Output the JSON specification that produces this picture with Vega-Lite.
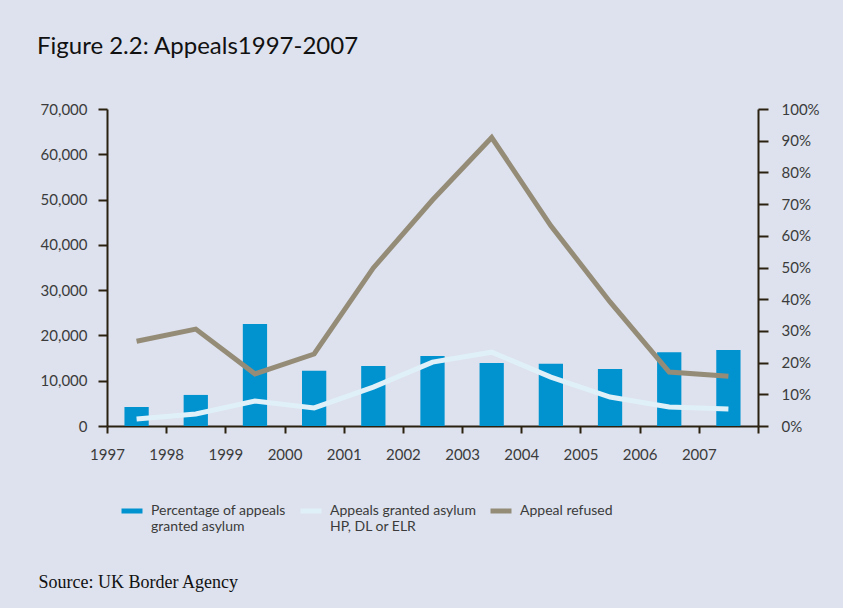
{
  "$schema": "https://vega.github.io/schema/vega-lite/v6.json",
  "width": 651,
  "height": 317,
  "autosize": {"type": "none"},
  "padding": {"left": 107, "top": 109, "right": 85, "bottom": 182},
  "background": "#dde2ee",
  "title": {
    "text": "Figure 2.2: Appeals1997-2007",
    "font": "Lato",
    "fontSize": 24,
    "fontWeight": "normal",
    "color": "#111111",
    "anchor": "start",
    "frame": "group",
    "align": "left",
    "baseline": "alphabetic",
    "dx": -70,
    "offset": 24
  },
  "data": {
    "values": [
      {"year": "1997", "series": "Percentage of appeals granted asylum", "value": 6.0},
      {"year": "1998", "series": "Percentage of appeals granted asylum", "value": 9.8},
      {"year": "1999", "series": "Percentage of appeals granted asylum", "value": 32.2},
      {"year": "2000", "series": "Percentage of appeals granted asylum", "value": 17.4},
      {"year": "2001", "series": "Percentage of appeals granted asylum", "value": 18.9},
      {"year": "2002", "series": "Percentage of appeals granted asylum", "value": 22.1},
      {"year": "2003", "series": "Percentage of appeals granted asylum", "value": 19.9},
      {"year": "2004", "series": "Percentage of appeals granted asylum", "value": 19.6},
      {"year": "2005", "series": "Percentage of appeals granted asylum", "value": 18.0},
      {"year": "2006", "series": "Percentage of appeals granted asylum", "value": 23.3},
      {"year": "2007", "series": "Percentage of appeals granted asylum", "value": 24.0},
      {"year": "1997", "series": "Appeals granted asylum HP, DL or ELR", "value": 1550},
      {"year": "1998", "series": "Appeals granted asylum HP, DL or ELR", "value": 2650},
      {"year": "1999", "series": "Appeals granted asylum HP, DL or ELR", "value": 5500},
      {"year": "2000", "series": "Appeals granted asylum HP, DL or ELR", "value": 4000},
      {"year": "2001", "series": "Appeals granted asylum HP, DL or ELR", "value": 8600},
      {"year": "2002", "series": "Appeals granted asylum HP, DL or ELR", "value": 14100},
      {"year": "2003", "series": "Appeals granted asylum HP, DL or ELR", "value": 16300},
      {"year": "2004", "series": "Appeals granted asylum HP, DL or ELR", "value": 10800},
      {"year": "2005", "series": "Appeals granted asylum HP, DL or ELR", "value": 6400},
      {"year": "2006", "series": "Appeals granted asylum HP, DL or ELR", "value": 4200},
      {"year": "2007", "series": "Appeals granted asylum HP, DL or ELR", "value": 3750},
      {"year": "1997", "series": "Appeal refused", "value": 18700},
      {"year": "1998", "series": "Appeal refused", "value": 21400},
      {"year": "1999", "series": "Appeal refused", "value": 11500},
      {"year": "2000", "series": "Appeal refused", "value": 15900},
      {"year": "2001", "series": "Appeal refused", "value": 34900},
      {"year": "2002", "series": "Appeal refused", "value": 49900},
      {"year": "2003", "series": "Appeal refused", "value": 63700},
      {"year": "2004", "series": "Appeal refused", "value": 44200},
      {"year": "2005", "series": "Appeal refused", "value": 27400},
      {"year": "2006", "series": "Appeal refused", "value": 11900},
      {"year": "2007", "series": "Appeal refused", "value": 11000}
    ]
  },
  "encoding": {
    "x": {
      "field": "year",
      "type": "ordinal",
      "scale": {"paddingInner": 0, "paddingOuter": 0},
      "axis": {
        "tickBand": "extent",
        "labelAngle": 0,
        "tickSize": 7,
        "labelPadding": 14,
        "labelOffset": -29.6,
        "title": "Source: UK Border Agency",
        "titleFont": "Liberation Serif",
        "titleFontSize": 18,
        "titleFontWeight": "normal",
        "titleColor": "#111111",
        "titleAlign": "left",
        "titleBaseline": "alphabetic",
        "titleAnchor": "start",
        "titleX": -69,
        "titleY": 161
      }
    }
  },
  "layer": [
    {
      "transform": [{"filter": "datum.series === 'Percentage of appeals granted asylum'"}],
      "mark": {"type": "bar", "width": {"band": 0.41}},
      "encoding": {
        "y": {
          "field": "value",
          "type": "quantitative",
          "scale": {"domain": [0, 100], "nice": false},
          "axis": {
            "orient": "right",
            "values": [0, 10, 20, 30, 40, 50, 60, 70, 80, 90, 100],
            "labelExpr": "datum.value + '%'",
            "tickSize": 10,
            "labelPadding": 13,
            "title": null
          }
        },
        "color": {
          "field": "series",
          "type": "nominal",
          "scale": {
            "domain": ["Percentage of appeals granted asylum", "Appeals granted asylum HP, DL or ELR", "Appeal refused"],
            "range": ["#0093d0", "#e0f0f8", "#958c78"]
          },
          "legend": {
            "labelExpr": "datum.label === 'Percentage of appeals granted asylum' ? ['Percentage of appeals', 'granted asylum'] : datum.label === 'Appeals granted asylum HP, DL or ELR' ? ['Appeals granted asylum', 'HP, DL or ELR'] : [datum.label, ' ']"
          }
        }
      }
    },
    {
      "transform": [{"filter": "datum.series !== 'Percentage of appeals granted asylum'"}],
      "mark": {"type": "line", "strokeWidth": 5, "strokeJoin": "miter", "strokeCap": "butt"},
      "encoding": {
        "y": {
          "field": "value",
          "type": "quantitative",
          "scale": {"domain": [0, 70000], "nice": false},
          "axis": {
            "orient": "left",
            "values": [0, 10000, 20000, 30000, 40000, 50000, 60000, 70000],
            "format": ",d",
            "tickSize": 9,
            "labelPadding": 11,
            "title": null
          }
        },
        "color": {
          "field": "series",
          "type": "nominal",
          "scale": {
            "domain": ["Percentage of appeals granted asylum", "Appeals granted asylum HP, DL or ELR", "Appeal refused"],
            "range": ["#0093d0", "#e0f0f8", "#958c78"]
          },
          "legend": {
            "labelExpr": "datum.label === 'Percentage of appeals granted asylum' ? ['Percentage of appeals', 'granted asylum'] : datum.label === 'Appeals granted asylum HP, DL or ELR' ? ['Appeals granted asylum', 'HP, DL or ELR'] : [datum.label, ' ']"
          }
        }
      }
    }
  ],
  "resolve": {"scale": {"y": "independent"}},
  "config": {
    "view": {"stroke": null},
    "axis": {
      "grid": false,
      "domainColor": "#2a2110",
      "domainWidth": 2,
      "tickColor": "#2a2110",
      "tickWidth": 2,
      "labelFont": "Lato",
      "labelFontSize": 15,
      "labelColor": "#3b3b3b"
    },
    "legend": {
      "orient": "none",
      "legendX": 12,
      "legendY": 389,
      "direction": "horizontal",
      "columns": 3,
      "columnPadding": 4,
      "title": null,
      "padding": 0,
      "symbolType": "stroke",
      "symbolSize": 441,
      "symbolStrokeWidth": 5,
      "labelFont": "Lato",
      "labelFontSize": 14,
      "labelColor": "#3b3b3b",
      "labelOffset": 6,
      "labelLimit": 300
    }
  }
}
